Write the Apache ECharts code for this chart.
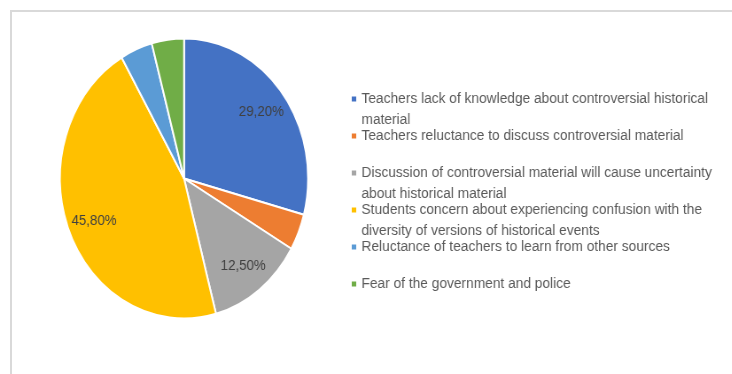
<!DOCTYPE html>
<html><head><meta charset="utf-8">
<script src="https://cdn.jsdelivr.net/npm/echarts@6/dist/echarts.min.js"></script>
<style>
html,body{margin:0;padding:0;background:#fff;overflow:hidden;}
#frame{position:absolute;left:10px;top:10px;width:740px;height:380px;border-left:2px solid #d9d9d9;border-top:2px solid #d9d9d9;box-sizing:border-box;}
#chart{position:absolute;left:0;top:0;width:826px;height:374px;transform:scaleX(0.886);transform-origin:0 0;}
</style></head>
<body>
<div id="frame"></div>
<div id="chart"></div>
<script>
const categories = [
  'Teachers lack of knowledge about controversial historical material',
  'Teachers reluctance to discuss controversial material',
  'Discussion of controversial material will cause uncertainty about historical material',
  'Students concern about experiencing confusion with the diversity of versions of historical events',
  'Reluctance of teachers to learn from other sources',
  'Fear of the government and police'
];
const legendLines = [
  ['Teachers lack of knowledge about controversial historical', 'material'],
  ['Teachers reluctance to discuss controversial material', ''],
  ['Discussion of controversial material will cause uncertainty', 'about historical material'],
  ['Students concern about experiencing confusion with the', 'diversity of versions of historical events'],
  ['Reluctance of teachers to learn from other sources', ''],
  ['Fear of the government and police', '']
];
const values = [29.2, 4.2, 12.5, 45.8, 4.2, 4.2];
const showLabel = [true, false, true, true, false, false];
const colors = ['#4472c4', '#ed7d31', '#a5a5a5', '#ffc000', '#5b9bd5', '#70ad47'];

const chart = echarts.init(document.getElementById('chart'), null, {renderer: 'canvas'});
const fontFam = '"Liberation Sans", Arial, sans-serif';
const baseData = categories.map((c, i) => ({name: c, value: values[i], itemStyle: {color: colors[i]}}));
const labelData = categories.map((c, i) => ({name: c, value: values[i], label: {show: showLabel[i]}}));

chart.setOption({
  animation: false,
  color: colors,
  legend: {
    orient: 'vertical',
    left: 395,
    top: 67.5,
    padding: 0,
    itemGap: -26,
    itemWidth: 7,
    itemHeight: 7,
    icon: 'rect',
    data: categories,
    formatter: function (name) {
      const l = legendLines[categories.indexOf(name)];
      return '\n' + l[0] + '\n' + l[1];
    },
    textStyle: {fontFamily: fontFam, fontSize: 15.5, lineHeight: 21, color: '#595959'}
  },
  series: [
    {
      type: 'pie',
      center: [207.7, 178.5],
      radius: [0, 140],
      startAngle: 90,
      clockwise: true,
      label: {show: false},
      labelLine: {show: false},
      itemStyle: {borderColor: '#ffffff', borderWidth: 2},
      emphasis: {disabled: true},
      data: baseData
    },
    {
      type: 'pie',
      name: 'labels',
      center: [207.7, 178.5],
      radius: [74, 140],
      startAngle: 90,
      clockwise: true,
      silent: true,
      itemStyle: {color: 'rgba(0,0,0,0)', borderWidth: 0},
      emphasis: {disabled: true},
      labelLine: {show: false},
      label: {
        position: 'inside',
        fontFamily: fontFam,
        fontSize: 15,
        color: '#404040',
        formatter: p => p.value.toFixed(2).replace('.', ',') + '%'
      },
      data: labelData
    }
  ]
});
</script>
</body></html>
